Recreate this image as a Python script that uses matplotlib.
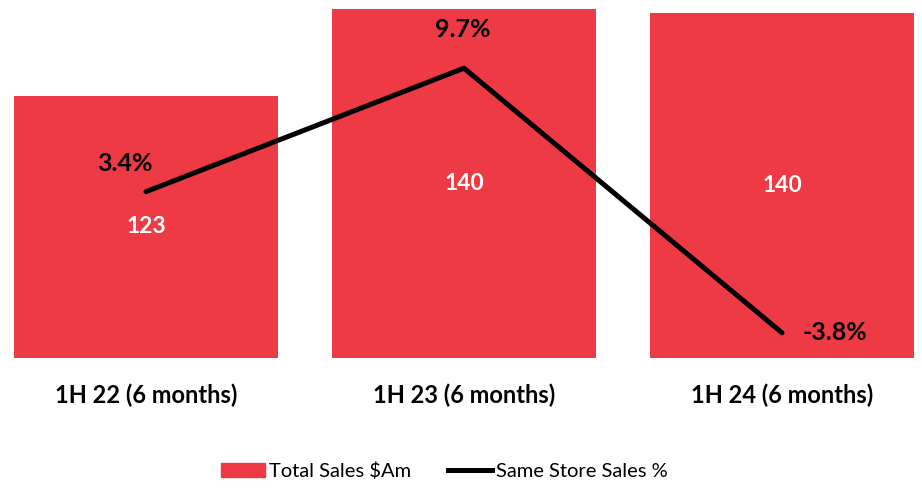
import numpy as np
import matplotlib.pyplot as plt
from matplotlib.patches import Patch
from matplotlib.lines import Line2D

plt.rcParams['font.family'] = ['Lato', 'DejaVu Sans']

periods = ['1H 22 (6 months)', '1H 23 (6 months)', '1H 24 (6 months)']
total_sales = [123.0, 140.4, 139.6]
sales_labels = ['123', '140', '140']
same_store = [3.4, 9.7, -3.8]

RED = '#EE3A45'

fig = plt.figure(figsize=(9.22, 4.9), dpi=100)
ax = fig.add_axes([14 / 922, 1 - 357.5 / 490, 900 / 922, 349.5 / 490])
x = np.arange(len(periods))

bars = ax.bar(x, total_sales, width=0.83, color=RED)
ax.set_xlim(-0.415, 2.415)
ax.set_ylim(70.7, 140.6)
for b, lab in zip(bars, sales_labels):
    ymid = (b.get_height() + 70.7) / 2
    ax.text(b.get_x() + b.get_width() / 2, ymid, lab, ha='center', va='center',
            color='white', fontsize=16.5, fontweight='bold')

ax.set_xticks(x)
ax.set_xticklabels(periods, fontsize=17, fontweight='bold')
ax.tick_params(axis='x', length=0, pad=19)
ax.set_yticks([])
for s in ax.spines.values():
    s.set_visible(False)

ax2 = ax.twinx()
ax2.plot(x, same_store, color='black', lw=3.6, solid_capstyle='round')
ax2.set_ylim(-5.06, 12.77)
ax2.set_yticks([])
for s in ax2.spines.values():
    s.set_visible(False)

# label offsets in points
offsets = [(-15, 20), (-1, 28), (38, 0)]
for xi, v, off in zip(x, same_store, offsets):
    ax2.annotate(f'{v}%', (xi, v), xytext=off, textcoords='offset points',
                 ha='center', va='center', fontsize=18, fontweight='bold')

handles = [Patch(color=RED, label='Total Sales $Am'),
           Line2D([0], [0], color='black', lw=3.6, label='Same Store Sales %')]
fig.legend(handles=handles, loc='center', bbox_to_anchor=(0.482, 1 - 471 / 490),
           ncol=2, frameon=False, fontsize=14.5, handlelength=2.2, handletextpad=0.2,
           columnspacing=1.8)

fig.savefig('out.png', dpi=100)
